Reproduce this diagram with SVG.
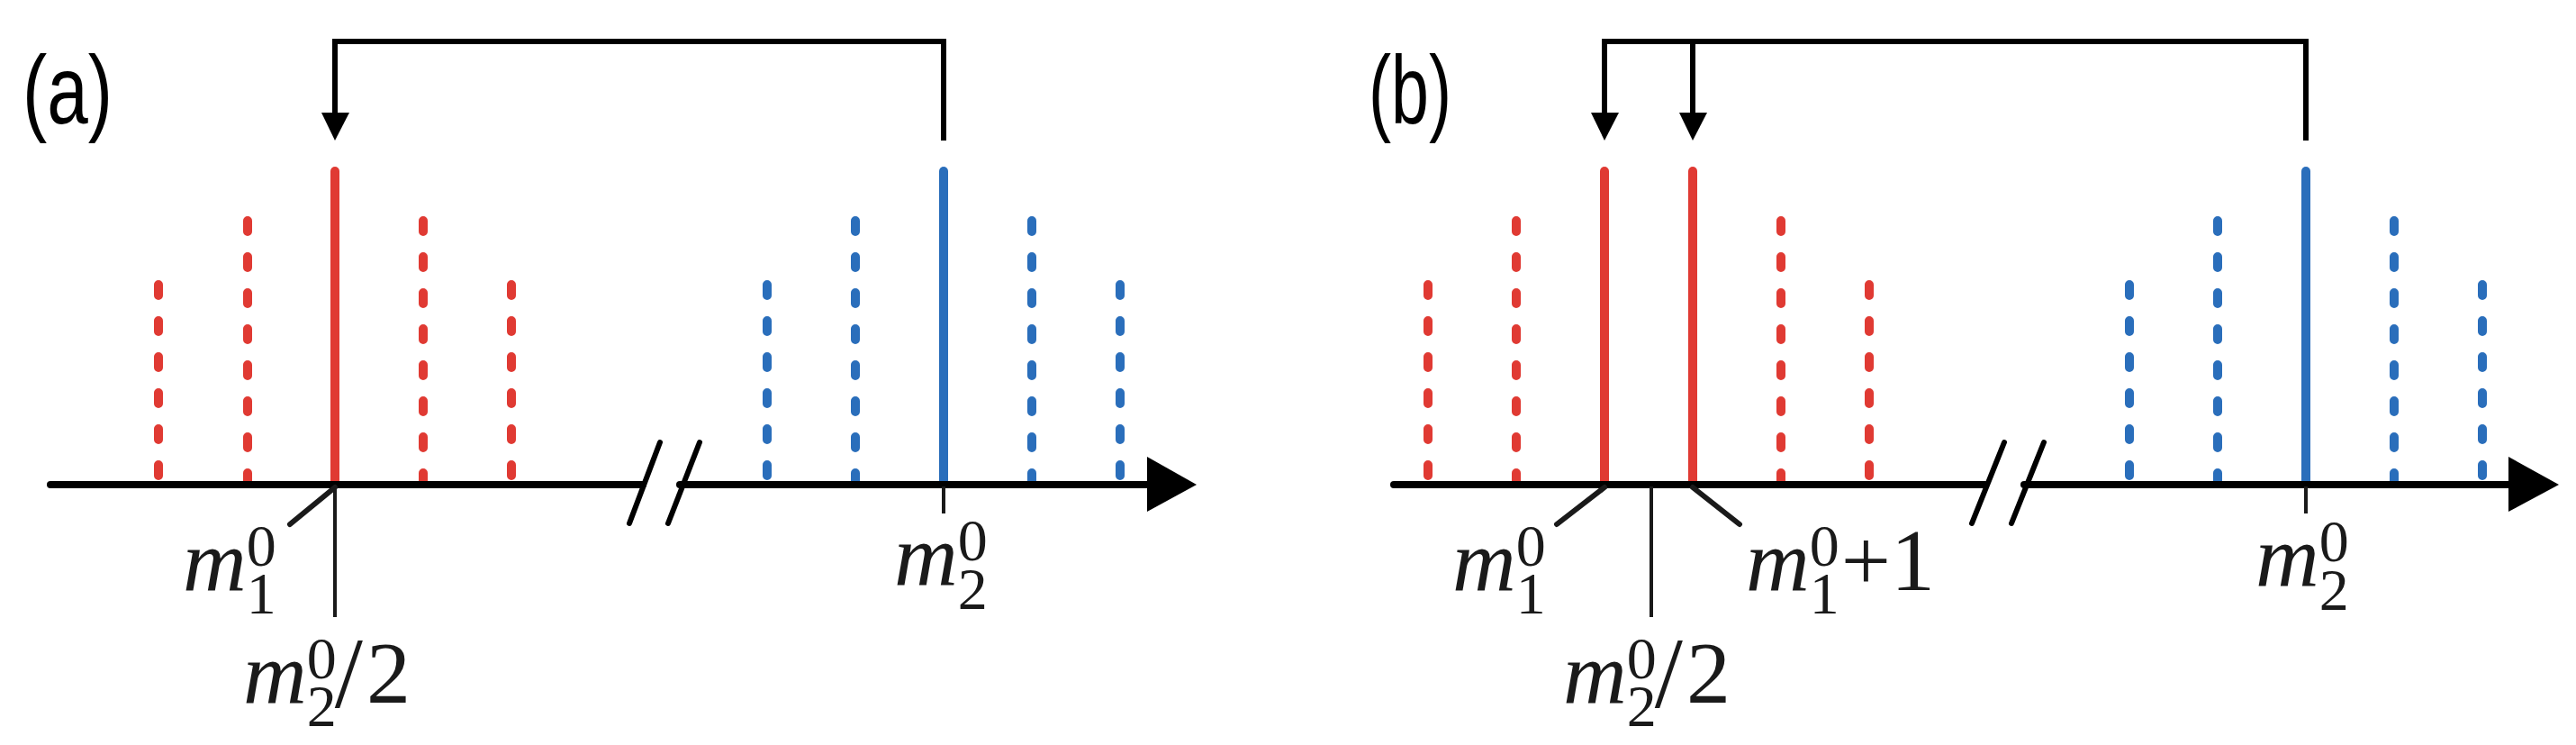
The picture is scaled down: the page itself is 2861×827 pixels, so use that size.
<svg xmlns="http://www.w3.org/2000/svg" width="2861" height="827" viewBox="0 0 2861 827">
<style>
.r{stroke:#E03A33;stroke-width:10;stroke-linecap:round;fill:none}
.b{stroke:#2A6EBB;stroke-width:10;stroke-linecap:round;fill:none}
.d{stroke-dasharray:12 28}
.ax{stroke:#000;stroke-width:8;stroke-linecap:round}
.br{stroke:#000;stroke-width:6;fill:none}
.tk{stroke:#1a1a1a;stroke-width:4}
.dg{stroke:#1a1a1a;stroke-width:6;stroke-linecap:round}
.sl{stroke:#000;stroke-width:6;stroke-linecap:round}
.m{font-family:'Liberation Serif',serif;font-style:italic;font-size:98px;fill:#1a1a1a}
.s{font-family:'Liberation Serif',serif;font-style:normal;font-size:66px}
.n{font-family:'Liberation Serif',serif;font-style:normal}
.p{font-family:'Liberation Sans',sans-serif;font-size:108px;fill:#000}
</style>
<g id="panel-a">
<text class="p" x="25" y="137" textLength="100" lengthAdjust="spacingAndGlyphs">(a)</text>
<g id="a-red">
<line class="r d" x1="176" y1="316" x2="176" y2="534"/>
<line class="r d" x1="275" y1="245" x2="275" y2="534"/>
<line class="r" x1="372" y1="190" x2="372" y2="536"/>
<line class="r d" x1="470" y1="245" x2="470" y2="534"/>
<line class="r d" x1="568" y1="316" x2="568" y2="534"/>
</g>
<g id="a-blue">
<line class="b d" x1="852" y1="316" x2="852" y2="534"/>
<line class="b d" x1="950" y1="245" x2="950" y2="534"/>
<line class="b" x1="1048" y1="190" x2="1048" y2="536"/>
<line class="b d" x1="1146" y1="245" x2="1146" y2="534"/>
<line class="b d" x1="1244" y1="316" x2="1244" y2="534"/>
</g>
<g id="a-axis">
<line class="ax" x1="56" y1="538" x2="714" y2="538"/>
<line class="ax" x1="755" y1="538" x2="1280" y2="538"/>
<polygon points="1274,507 1329,538 1274,568" fill="#000"/>
<line class="sl" x1="733" y1="491" x2="699" y2="581"/>
<line class="sl" x1="777" y1="491" x2="742" y2="581"/>
<line class="tk" x1="372" y1="540" x2="372" y2="685"/>
<line class="dg" x1="372" y1="541" x2="322" y2="582"/>
<line class="tk" x1="1048" y1="540" x2="1048" y2="570"/>
</g>
<g id="a-labels">
<text class="m" x="203" y="655">m<tspan class="s" dy="-27">0</tspan><tspan class="s" dx="-33" dy="53">1</tspan></text>
<text class="m" x="270" y="780">m<tspan class="s" dy="-27">0</tspan><tspan class="s" dx="-33" dy="53">2</tspan><tspan class="n" font-size="112" dx="-2" dy="-21">/</tspan><tspan class="n" dx="4" dy="-5">2</tspan></text>
<text class="m" x="993" y="649">m<tspan class="s" dy="-27">0</tspan><tspan class="s" dx="-33" dy="54">2</tspan></text>
</g>
</g>
<g id="connectors">
<polyline class="br" points="372,126 372,46 1048,46 1048,156"/>
<polygon points="357,125 388,125 372,156" fill="#000"/>
<polyline class="br" points="1782,126 1782,46 2561,46 2561,156"/>
<line class="br" x1="1880" y1="46" x2="1880" y2="126"/>
<polygon points="1767,125 1798,125 1782,156" fill="#000"/>
<polygon points="1865,125 1896,125 1880,156" fill="#000"/>
</g>
<g id="panel-b">
<text class="p" x="1520" y="137" textLength="92" lengthAdjust="spacingAndGlyphs">(b)</text>
<g id="b-red">
<line class="r d" x1="1586" y1="316" x2="1586" y2="534"/>
<line class="r d" x1="1684" y1="245" x2="1684" y2="534"/>
<line class="r" x1="1782" y1="190" x2="1782" y2="536"/>
<line class="r" x1="1880" y1="190" x2="1880" y2="536"/>
<line class="r d" x1="1978" y1="245" x2="1978" y2="534"/>
<line class="r d" x1="2076" y1="316" x2="2076" y2="534"/>
</g>
<g id="b-blue">
<line class="b d" x1="2365" y1="316" x2="2365" y2="534"/>
<line class="b d" x1="2463" y1="245" x2="2463" y2="534"/>
<line class="b" x1="2561" y1="190" x2="2561" y2="536"/>
<line class="b d" x1="2659" y1="245" x2="2659" y2="534"/>
<line class="b d" x1="2757" y1="316" x2="2757" y2="534"/>
</g>
<g id="b-axis">
<line class="ax" x1="1548" y1="538" x2="2205" y2="538"/>
<line class="ax" x1="2248" y1="538" x2="2792" y2="538"/>
<polygon points="2786,507 2842,538 2786,568" fill="#000"/>
<line class="sl" x1="2226" y1="491" x2="2190" y2="581"/>
<line class="sl" x1="2270" y1="491" x2="2234" y2="581"/>
<line class="tk" x1="1834" y1="540" x2="1834" y2="685"/>
<line class="dg" x1="1782" y1="541" x2="1729" y2="582"/>
<line class="dg" x1="1880" y1="541" x2="1932" y2="582"/>
<line class="tk" x1="2561" y1="540" x2="2561" y2="570"/>
</g>
<g id="b-labels">
<text class="m" x="1613" y="655">m<tspan class="s" dy="-27">0</tspan><tspan class="s" dx="-33" dy="53">1</tspan></text>
<text class="m" x="1939" y="655">m<tspan class="s" dy="-27">0</tspan><tspan class="s" dx="-33" dy="53">1</tspan><tspan class="n" dx="2" dy="-26">+1</tspan></text>
<text class="m" x="1736" y="780">m<tspan class="s" dy="-27">0</tspan><tspan class="s" dx="-33" dy="53">2</tspan><tspan class="n" font-size="112" dx="-2" dy="-21">/</tspan><tspan class="n" dx="4" dy="-5">2</tspan></text>
<text class="m" x="2505" y="650">m<tspan class="s" dy="-27">0</tspan><tspan class="s" dx="-33" dy="54">2</tspan></text>
</g>
</g>
</svg>
